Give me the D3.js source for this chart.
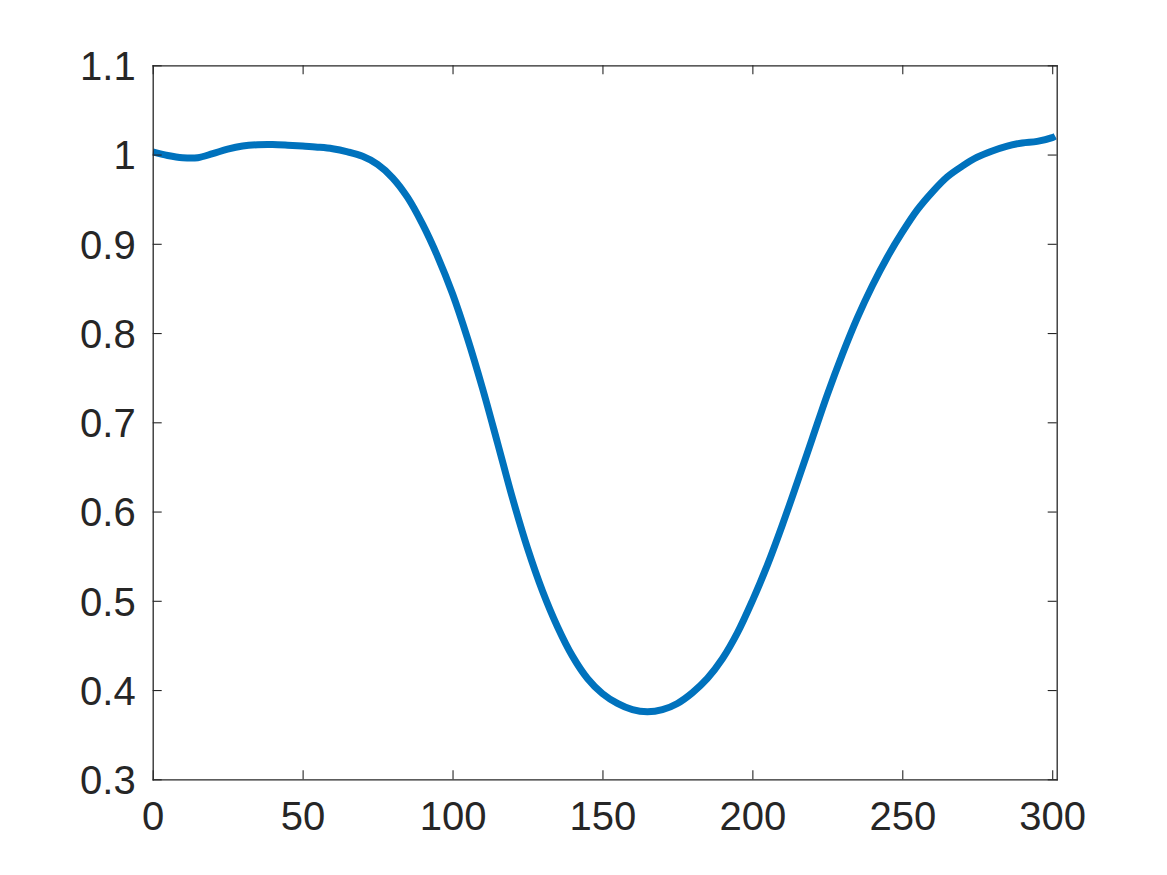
<!DOCTYPE html>
<html>
<head>
<meta charset="utf-8">
<script src="https://cdn.jsdelivr.net/npm/d3@7"></script>
<style>
  html, body { margin: 0; padding: 0; background: #fff; }
  svg { display: block; }
  text { font-family: "Liberation Sans", Arial, Helvetica, sans-serif; }
</style>
</head>
<body>
<script>
// ---- data ----
const xValues = [0, 5, 10, 15, 20, 25, 30, 35, 40, 45, 50, 55, 60, 65, 70, 75, 80, 85, 90, 95,
  100, 105, 110, 115, 120, 125, 130, 135, 140, 145, 150, 155, 160, 165, 170, 175, 180, 185, 190, 195,
  200, 205, 210, 215, 220, 225, 230, 235, 240, 245, 250, 255, 260, 265, 270, 275, 280, 285, 290, 295, 300, 301];
const yValues = [1.003, 0.999, 0.9965, 0.9965, 1.001, 1.006, 1.0095, 1.011, 1.0112, 1.0105, 1.0095, 1.0083, 1.0065, 1.003, 0.998, 0.989, 0.974, 0.952, 0.922, 0.886,
  0.844, 0.794, 0.738, 0.677, 0.615, 0.559, 0.511, 0.471, 0.438, 0.413, 0.396, 0.385, 0.378, 0.3757, 0.378, 0.385, 0.397, 0.413, 0.435, 0.464,
  0.500, 0.540, 0.585, 0.633, 0.682, 0.731, 0.776, 0.817, 0.853, 0.885, 0.913, 0.938, 0.958, 0.975, 0.987, 0.997, 1.004, 1.0095, 1.013, 1.0148, 1.019, 1.0205];
const xTicks = [0, 50, 100, 150, 200, 250, 300];
const yTicks = [0.3, 0.4, 0.5, 0.6, 0.7, 0.8, 0.9, 1.0, 1.1];
const xDomain = [0, 301.5];
const yDomain = [0.3, 1.1];

// ---- layout ----
const W = 1167, H = 875;
const mLeft = 152.7, mRight = 1056.7, mTop = 65.3, mBottom = 779.3;
const axisColor = "#262626";
const lineColor = "#0072BD";
const tickLen = 9;

const svg = d3.select("body").append("svg").attr("width", W).attr("height", H);

const x = d3.scaleLinear().domain(xDomain).range([mLeft, mRight]);
const y = d3.scaleLinear().domain(yDomain).range([mBottom, mTop]);

const fmt = d => (Math.abs(d - 1) < 1e-9 ? "1" : d.toFixed(1));

svg.append("clipPath").attr("id", "clip").append("rect")
  .attr("x", mLeft).attr("y", mTop).attr("width", mRight - mLeft).attr("height", mBottom - mTop);

const data = xValues.map((d, i) => [d, yValues[i]]);
svg.append("path")
  .datum(data)
  .attr("clip-path", "url(#clip)")
  .attr("fill", "none")
  .attr("stroke", lineColor)
  .attr("stroke-width", 7)
  .attr("stroke-linejoin", "round")
  .attr("d", d3.line().x(d => x(d[0])).y(d => y(d[1])).curve(d3.curveCatmullRom));

function styleAxis(g) {
  g.select(".domain").attr("stroke", axisColor).attr("stroke-width", 1.3);
  g.selectAll(".tick line").attr("stroke", axisColor).attr("stroke-width", 1.1);
  g.selectAll(".tick text").attr("fill", axisColor).style("font-size", "40px");
}

const xAxisB = svg.append("g").attr("transform", `translate(0,${mBottom})`)
  .call(d3.axisBottom(x).tickValues(xTicks).tickFormat(d3.format("d")).tickSizeInner(-tickLen).tickSizeOuter(0).tickPadding(22));
styleAxis(xAxisB);
xAxisB.selectAll(".tick text").attr("y", 22).attr("dy", "0.71em");

const xAxisT = svg.append("g").attr("transform", `translate(0,${mTop})`)
  .call(d3.axisTop(x).tickValues(xTicks).tickFormat("").tickSizeInner(-tickLen).tickSizeOuter(0));
styleAxis(xAxisT);

const yAxisL = svg.append("g").attr("transform", `translate(${mLeft},0)`)
  .call(d3.axisLeft(y).tickValues(yTicks).tickFormat(fmt).tickSizeInner(-tickLen).tickSizeOuter(0).tickPadding(17));
styleAxis(yAxisL);
yAxisL.selectAll(".tick text").attr("x", -17).attr("dy", "0.36em");

const yAxisR = svg.append("g").attr("transform", `translate(${mRight},0)`)
  .call(d3.axisRight(y).tickValues(yTicks).tickFormat("").tickSizeInner(-tickLen).tickSizeOuter(0));
styleAxis(yAxisR);

svg.selectAll(".domain").attr("stroke-linecap", "square");
</script>
</body>
</html>
